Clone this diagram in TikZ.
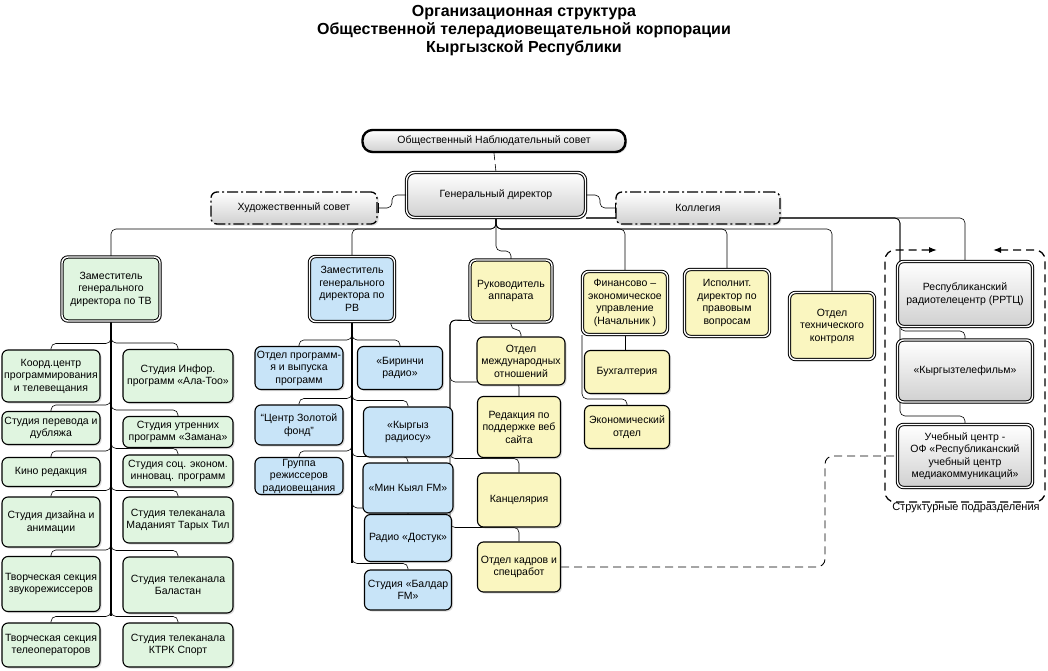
\documentclass[tikz,border=0pt]{standalone}
\usepackage{fontspec}
\setmainfont{Liberation Sans}
\usetikzlibrary{arrows.meta,shadows}
\definecolor{tvgreen}{RGB}{224,245,224}
\definecolor{rvblue}{RGB}{200,228,248}
\definecolor{apyellow}{RGB}{250,246,192}
\definecolor{boxgray}{RGB}{208,208,208}
\pgfdeclarelayer{background}
\pgfsetlayers{background,main}
\tikzset{
    unit/.style={
           rectangle,
           rounded corners=6pt,
           draw=black, line width=1.1pt,
           inner sep=1pt,
           align=center,
           font=\fontsize{10.5}{12.5}\selectfont,
           drop shadow={shadow xshift=1.5pt, shadow yshift=-1.5pt, fill=black!45, opacity=0.3},
           },
    chief/.style={
           unit,
           double, double distance=1.4pt, line width=1pt,
           },
    tvbox/.style={unit, fill=tvgreen},
    rvbox/.style={unit, fill=rvblue},
    apbox/.style={unit, fill=apyellow},
    graybox/.style={unit, top color=white, bottom color=boxgray},
    council/.style={graybox, line width=1.3pt, dash pattern=on 11pt off 3pt on 2pt off 3pt},
    link/.style={draw=black, line width=0.6pt, rounded corners=5pt},
    spine/.style={draw=black, line width=1.6pt},
    dlink/.style={draw=black, line width=0.9pt, rounded corners=8pt, dash pattern=on 8pt off 5pt},
}

\begin{document}
\begin{tikzpicture}[x=1pt,y=-1pt]
    \useasboundingbox (0,0) rectangle (1048,671);

    % heading
    \node[align=center, font=\fontsize{16}{18}\selectfont\bfseries] (title) at (524,31)
    {Организационная структура\\Общественной телерадиовещательной корпорации\\Кыргызской Республики};

    % top level
    \node[graybox, rounded corners=10pt, line width=2.4pt,
    minimum width=263pt, minimum height=22pt] (nsovet) at (494,141)
    {Общественный Наблюдательный совет};
    \node[graybox, chief, rounded corners=8pt,
    minimum width=179pt, minimum height=45pt] (gendir) at (496,195)
    {Генеральный директор};
    \node[council, minimum width=166pt, minimum height=32pt] (hud) at (294,208)
    {Художественный совет};
    \node[council, minimum width=164pt, minimum height=32pt] (koll) at (698,208)
    {Коллегия};

    % television
    \node[tvbox, chief, minimum width=98pt, minimum height=64pt] (tvdep) at (111,289)
    {Заместитель\\генерального\\директора по ТВ};
    \node[tvbox, minimum width=98pt, minimum height=52pt] (l1) at (51,376) {Коорд.центр\\программирования\\и телевещания};
    \node[tvbox, minimum width=98pt, minimum height=33pt] (l2) at (51,428) {Студия перевода и\\дубляжа};
    \node[tvbox, minimum width=98pt, minimum height=29pt] (l3) at (51,472) {Кино редакция};
    \node[tvbox, minimum width=98pt, minimum height=50pt] (l4) at (51,522) {Студия дизайна и\\анимации};
    \node[tvbox, minimum width=98pt, minimum height=55pt] (l5) at (51,584) {Творческая секция\\звукорежиссеров};
    \node[tvbox, minimum width=98pt, minimum height=44pt] (l6) at (51,645) {Творческая секция\\телеоператоров};
    \node[tvbox, minimum width=110pt, minimum height=53pt] (r1) at (178,376) {Студия Инфор.\\программ «Ала-Тоо»};
    \node[tvbox, minimum width=110pt, minimum height=31pt] (r2) at (178,432) {Студия утренних\\программ «Замана»};
    \node[tvbox, minimum width=110pt, minimum height=32pt] (r3) at (178,471) {Студия соц. эконом.\\инновац. программ};
    \node[tvbox, minimum width=110pt, minimum height=46pt] (r4) at (178,520) {Студия телеканала\\Маданият Тарых Тил};
    \node[tvbox, minimum width=110pt, minimum height=56pt] (r5) at (178,585) {Студия телеканала\\Баластан};
    \node[tvbox, minimum width=110pt, minimum height=44pt] (r6) at (178,645) {Студия телеканала\\КТРК Спорт};

    % radio
    \node[rvbox, chief, minimum width=85pt, minimum height=65pt] (rvdep) at (352,289)
    {Заместитель\\генерального\\директора по\\РВ};
    \node[rvbox, minimum width=88pt, minimum height=43pt] (p1) at (299,368) {Отдел программ-\\я и выпуска\\программ};
    \node[rvbox, minimum width=88pt, minimum height=40pt] (p2) at (299,425) {“Центр Золотой\\фонд”};
    \node[rvbox, minimum width=88pt, minimum height=37pt] (p3) at (299,476) {Группа\\режиссеров\\радиовещания};
    \node[rvbox, minimum width=85pt, minimum height=43pt] (b1) at (400,368) {«Биринчи\\радио»};
    \node[rvbox, minimum width=89pt, minimum height=50pt] (b2) at (408,432) {«Кыргыз\\радиосу»};
    \node[rvbox, minimum width=90pt, minimum height=50pt] (b3) at (408,488) {«Мин Кыял FM»};
    \node[rvbox, minimum width=87pt, minimum height=47pt] (b4) at (408,538) {Радио «Достук»};
    \node[rvbox, minimum width=87pt, minimum height=40pt] (b5) at (408,590) {Студия «Балдар\\FM»};

    % apparatus
    \node[apbox, chief, minimum width=82pt, minimum height=62pt] (ruk) at (511,291) {Руководитель\\аппарата};
    \node[apbox, minimum width=88pt, minimum height=48pt] (a1) at (521,361) {Отдел\\международных\\отношений};
    \node[apbox, minimum width=83pt, minimum height=61pt] (a2) at (519,427) {Редакция по\\поддержке веб\\сайта};
    \node[apbox, minimum width=83pt, minimum height=54pt] (a3) at (519,500) {Канцелярия};
    \node[apbox, minimum width=83pt, minimum height=50pt] (a4) at (519,567) {Отдел кадров и\\спецработ};

    % finance, legal, technical
    \node[apbox, chief, minimum width=85pt, minimum height=63pt] (fin) at (625,303)
    {Финансово –\\экономическое\\управление\\(Начальник )};
    \node[apbox, minimum width=85pt, minimum height=43pt] (f1) at (627,372) {Бухгалтерия};
    \node[apbox, minimum width=85pt, minimum height=43pt] (f2) at (627,427) {Экономический\\отдел};
    \node[apbox, chief, minimum width=85pt, minimum height=67pt] (isp) at (727,303)
    {Исполнит.\\директор по\\правовым\\вопросам};
    \node[apbox, chief, minimum width=85pt, minimum height=67pt] (teh) at (832,326)
    {Отдел\\технического\\контроля};

    % structural units
    \node[graybox, chief, minimum width=135pt, minimum height=65pt] (rrtc) at (965,294)
    {Республиканский\\радиотелецентр (РРТЦ)};
    \node[graybox, chief, minimum width=135pt, minimum height=62pt] (kyr) at (965,371)
    {«Кыргызтелефильм»};
    \node[graybox, chief, minimum width=135pt, minimum height=63pt] (uch) at (965,456)
    {Учебный центр -\\ОФ «Республиканский\\учебный центр\\медиакоммуникаций»};
    \node[font=\fontsize{11}{13}\selectfont] (strlabel) at (966,508) {Структурные подразделения};
    \draw[black, line width=1.3pt, dash pattern=on 8pt off 5pt, rounded corners=10pt,
    {Latex[length=8pt,width=6pt]}-{Latex[length=8pt,width=6pt]}]
        (937,250) -- (885,250) -- (885,502) -- (1045,502) -- (1045,250) -- (993,250);

    % connectors
    \draw[link, dash pattern=on 7pt off 4pt] (nsovet.south) -- (gendir.north);
    \draw[link, -{Bar[width=10pt]}] (gendir.west) -- ++(-14,0) |- (hud.east);
    \draw[link, -{Bar[width=10pt]}] (gendir.east) -- ++(14,0) |- (koll.west);

    \begin{pgfonlayer}{background}
    \fill[white] (0,0) rectangle (1048,671);
    \foreach \unit in {tvdep,rvdep,fin,isp,teh}
        \draw[link] (gendir.south) -- ++(0,11) -| (\unit.north);
    \draw[link] (gendir.south) -- ++(0,33) -| (ruk.north);
    \draw[link] (gendir.south east) -| (rrtc.north);
    \draw[link] (gendir.south east) -| (900,331) -| (kyr.north);
    \draw[link] (gendir.south east) -| (900,416) -| (uch.north);

    \draw[spine] (tvdep.south) -- ([yshift=6pt]tvdep.south |- l6.north);
    \foreach \unit in {l1,l2,l3,l4,l5,l6,r1,r2,r3,r4,r5,r6}
        \draw[link] (tvdep.south) |- ([yshift=6pt]\unit.north) -- (\unit.north);
    \draw[spine] (rvdep.south) -- ([yshift=6pt]rvdep.south |- b5.north);
    \foreach \unit in {p1,p2,p3,b1,b2,b3,b4,b5}
        \draw[link] (rvdep.south) |- ([yshift=6pt]\unit.north) -- (\unit.north);

    \coordinate (rukleft) at (450,320);
    \draw[link] (ruk.south) |- ([yshift=7pt]a1.north) -- (a1.north);
    \foreach \unit in {a2,a3,a4}
        \draw[link] ([yshift=2pt]ruk.south west) -- (rukleft) |- ([yshift=14pt]\unit.north) -- (\unit.north);

    \draw[link] (fin.south) -- (fin.south |- f1.north);
    \draw[link] (fin.south west) |- ([yshift=6pt]f2.north) -- (f2.north);

    \draw[dlink] (a4.east) -| (825,456) -- (uch.west);
    \end{pgfonlayer}
\end{tikzpicture}
\end{document}
